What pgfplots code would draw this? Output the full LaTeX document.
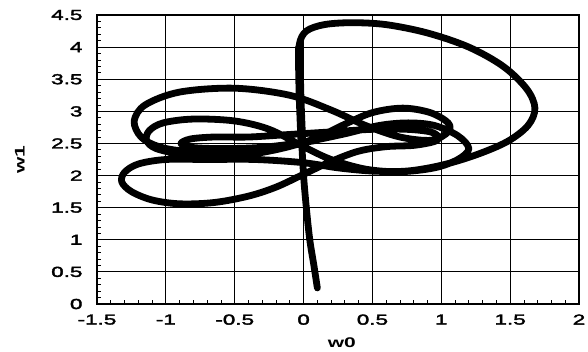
\documentclass[border=0pt]{standalone}
\usepackage{fontspec}
\setmainfont{Liberation Sans}
\newfontfamily\tf{Liberation Sans}[FakeStretch=1.55, FakeBold=2.5]
\newfontfamily\lf{Liberation Sans}
\usepackage{graphicx}
\usepackage{pgfplots}
\pgfplotsset{compat=1.18}
\begin{document}
\begin{tikzpicture}
\path[use as bounding box] (-97pt,-47pt) rectangle (491pt,304pt);
\begin{axis}[
  scale only axis, width=482pt, height=289pt,
  at={(0,0)}, anchor=south west,
  xmin=-1.5, xmax=2, ymin=0, ymax=4.5,
  xtick={-1.5,-1,-0.5,0,0.5,1,1.5,2},
  xticklabels={-1.5,-1,-0.5,0,0.5,1,1.5,2},
  ytick={0,0.5,1,1.5,2,2.5,3,3.5,4,4.5},
  yticklabels={0,0.5,1,1.5,2,2.5,3,3.5,4,4.5},
  minor tick num=4,
  grid=major, major grid style={black, line width=0.9pt},
  tick align=inside, tick pos=left,
  major tick length=0pt, minor tick length=4pt,
  minor tick style={black, line width=0.8pt},
  axis line style={line width=1.1pt},
  ticklabel style={font=\tf\fontsize{14.5}{14.5}\selectfont},
  yticklabel style={xshift=-11pt},
  xticklabel style={yshift=-7pt},
  xlabel={\scalebox{1.5}[1]{w0}}, ylabel={\scalebox{1.5}[1]{w1}},
  label style={font=\lf\bfseries\fontsize{14}{14}\selectfont},
  xlabel style={at={(rel axis cs:0.508,-0.135)}, anchor=center},
  ylabel style={at={(rel axis cs:-0.16,0.5)}, anchor=center},
]
\addplot[black, line width=6.8pt, line join=round, line cap=round, smooth, tension=0.55] coordinates {
(0.10,0.25) (0.075,0.6) (0.045,1.0) (0.02,1.5) (0.0,2.0) (-0.015,2.6) (-0.025,3.2) (-0.03,3.7) (-0.03,4.05) (0.02,4.25) (0.15,4.35) (0.35,4.38) (0.6,4.35) (0.9,4.22) (1.2,4.0) (1.45,3.7) (1.62,3.35) (1.68,3.05) (1.63,2.78) (1.48,2.53) (1.25,2.32) (1.0,2.16) (0.75,2.07) (0.5,2.07) (0.25,2.12)
(0.0,2.2) (-0.35,2.25) (-0.7,2.25) (-1.0,2.25) (-1.2,2.18) (-1.3,2.05) (-1.32,1.9) (-1.25,1.75) (-1.1,1.62) (-0.9,1.56) (-0.65,1.58) (-0.4,1.68) (-0.2,1.82) (0.0,2.02) (0.2,2.22) (0.4,2.38) (0.6,2.45) (0.8,2.47) (0.95,2.53) (0.98,2.6) (0.92,2.68) (0.75,2.72) (0.5,2.72) (0.2,2.68)
(-0.1,2.64) (-0.4,2.6) (-0.65,2.6) (-0.82,2.57) (-0.89,2.5) (-0.82,2.44) (-0.6,2.42) (-0.3,2.44) (0.0,2.52) (0.3,2.65) (0.55,2.78) (0.76,2.82)
(0.95,2.78) (1.12,2.62) (1.2,2.42) (1.12,2.25) (0.95,2.12) (0.7,2.06) (0.45,2.1)
(0.2,2.25) (0.0,2.45) (-0.25,2.72) (-0.5,2.85) (-0.8,2.88) (-1.02,2.82) (-1.12,2.7) (-1.14,2.55) (-1.07,2.42) (-0.85,2.32) (-0.55,2.3) (-0.25,2.38) (0.05,2.55) (0.3,2.8) (0.5,2.98) (0.72,3.05) (0.92,2.98) (1.05,2.82) (1.05,2.68) (0.93,2.55)
(0.7,2.6) (0.45,2.78) (0.2,3.02) (-0.1,3.25) (-0.5,3.36) (-0.9,3.3) (-1.15,3.1) (-1.23,2.85) (-1.18,2.6) (-1.05,2.45) (-0.85,2.38) (-0.5,2.38) (-0.2,2.45) (0.1,2.55)
};
\addplot[black, line width=8.5pt, line cap=round, smooth] coordinates {
(-0.012,2.5) (-0.025,3.2) (-0.03,3.7) (-0.03,4.0)
};
\end{axis}
\end{tikzpicture}
\end{document}
